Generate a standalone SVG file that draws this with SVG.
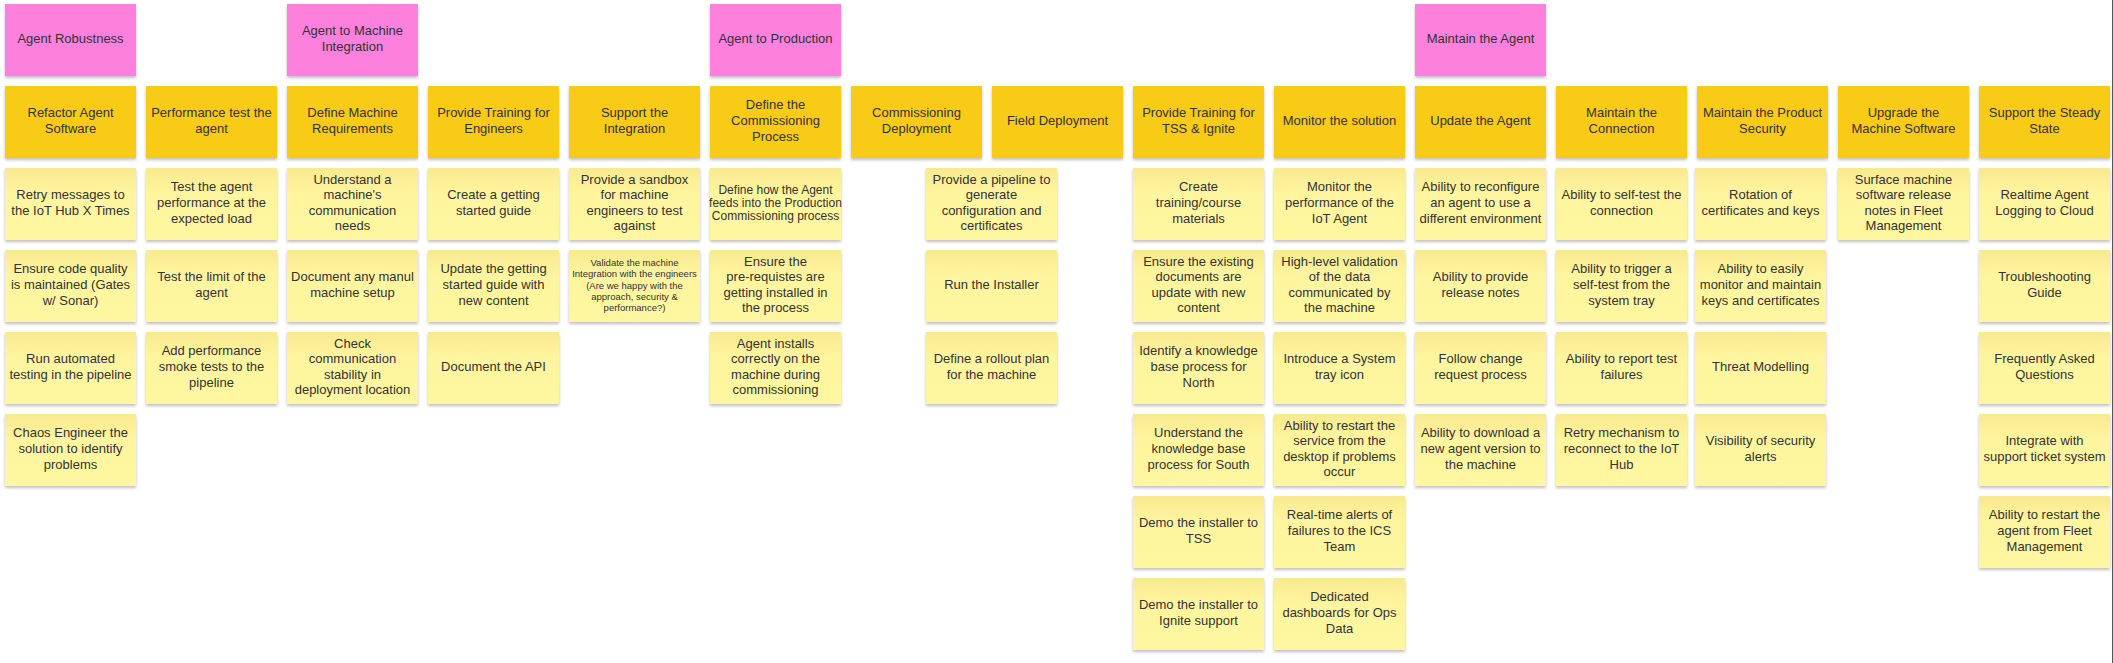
<svg xmlns="http://www.w3.org/2000/svg" width="2113" height="663" viewBox="0 0 2113 663">
<defs>
<linearGradient id="gy" x1="0" y1="0" x2="0" y2="1">
<stop offset="0" stop-color="#F8E98F"/>
<stop offset="0.35" stop-color="#FFF59F"/>
<stop offset="1" stop-color="#FFF6A0"/>
</linearGradient>
<filter id="sh" x="-10%" y="-10%" width="120%" height="130%">
<feDropShadow dx="0" dy="2" stdDeviation="1.5" flood-color="#000" flood-opacity="0.25"/>
</filter>
<style>
rect{filter:url(#sh)}
.p{fill:#FD80DD}
.o{fill:#F8CB14}
.y{fill:url(#gy)}
text{font-family:"Liberation Sans",Arial,sans-serif;font-size:13px;fill:#333;text-anchor:middle}
.s12{font-size:12px}
.s9{font-size:9.5px}
</style>
</defs>
<rect x="0" y="0" width="2113" height="663" fill="#fff" style="filter:none"/>
<g id="connectors"/>

<!-- Column 0 -->
<g id="epic-agent-robustness"><rect class="p" x="5" y="4" width="131" height="72"/><text x="70.5" y="43">Agent Robustness</text></g>
<g id="f-refactor"><rect class="o" x="5" y="86" width="131" height="72"/><text y="117.2"><tspan x="70.5">Refactor Agent</tspan><tspan x="70.5" dy="15.6">Software</tspan></text></g>
<g id="s-retry"><rect class="y" x="5" y="168" width="131" height="72"/><text y="199.2"><tspan x="70.5">Retry messages to</tspan><tspan x="70.5" dy="15.6">the IoT Hub X Times</tspan></text></g>
<g id="s-codequality"><rect class="y" x="5" y="250" width="131" height="72"/><text y="273.4"><tspan x="70.5">Ensure code quality</tspan><tspan x="70.5" dy="15.6">is maintained (Gates</tspan><tspan x="70.5" dy="15.6">w/ Sonar)</tspan></text></g>
<g id="s-autotest"><rect class="y" x="5" y="332" width="131" height="72"/><text y="363.2"><tspan x="70.5">Run automated</tspan><tspan x="70.5" dy="15.6">testing in the pipeline</tspan></text></g>
<g id="s-chaos"><rect class="y" x="5" y="414" width="131" height="72"/><text y="437.4"><tspan x="70.5">Chaos Engineer the</tspan><tspan x="70.5" dy="15.6">solution to identify</tspan><tspan x="70.5" dy="15.6">problems</tspan></text></g>

<!-- Column 1 -->
<g id="f-perftest"><rect class="o" x="146" y="86" width="131" height="72"/><text y="117.2"><tspan x="211.5">Performance test the</tspan><tspan x="211.5" dy="15.6">agent</tspan></text></g>
<g id="s-perfload"><rect class="y" x="146" y="168" width="131" height="72"/><text y="191.4"><tspan x="211.5">Test the agent</tspan><tspan x="211.5" dy="15.6">performance at the</tspan><tspan x="211.5" dy="15.6">expected load</tspan></text></g>
<g id="s-limit"><rect class="y" x="146" y="250" width="131" height="72"/><text y="281.2"><tspan x="211.5">Test the limit of the</tspan><tspan x="211.5" dy="15.6">agent</tspan></text></g>
<g id="s-smoke"><rect class="y" x="146" y="332" width="131" height="72"/><text y="355.4"><tspan x="211.5">Add performance</tspan><tspan x="211.5" dy="15.6">smoke tests to the</tspan><tspan x="211.5" dy="15.6">pipeline</tspan></text></g>

<!-- Column 2 -->
<g id="epic-machine-integration"><rect class="p" x="287" y="4" width="131" height="72"/><text y="35.2"><tspan x="352.5">Agent to Machine</tspan><tspan x="352.5" dy="15.6">Integration</tspan></text></g>
<g id="f-machinereq"><rect class="o" x="287" y="86" width="131" height="72"/><text y="117.2"><tspan x="352.5">Define Machine</tspan><tspan x="352.5" dy="15.6">Requirements</tspan></text></g>
<g id="s-commneeds"><rect class="y" x="287" y="168" width="131" height="72"/><text y="183.6"><tspan x="352.5">Understand a</tspan><tspan x="352.5" dy="15.6">machine's</tspan><tspan x="352.5" dy="15.6">communication</tspan><tspan x="352.5" dy="15.6">needs</tspan></text></g>
<g id="s-manulsetup"><rect class="y" x="287" y="250" width="131" height="72"/><text y="281.2"><tspan x="352.5">Document any manul</tspan><tspan x="352.5" dy="15.6">machine setup</tspan></text></g>
<g id="s-stability"><rect class="y" x="287" y="332" width="131" height="72"/><text y="347.6"><tspan x="352.5">Check</tspan><tspan x="352.5" dy="15.6">communication</tspan><tspan x="352.5" dy="15.6">stability in</tspan><tspan x="352.5" dy="15.6">deployment location</tspan></text></g>

<!-- Column 3 -->
<g id="f-training-eng"><rect class="o" x="428" y="86" width="131" height="72"/><text y="117.2"><tspan x="493.5">Provide Training for</tspan><tspan x="493.5" dy="15.6">Engineers</tspan></text></g>
<g id="s-gsguide"><rect class="y" x="428" y="168" width="131" height="72"/><text y="199.2"><tspan x="493.5">Create a getting</tspan><tspan x="493.5" dy="15.6">started guide</tspan></text></g>
<g id="s-gsupdate"><rect class="y" x="428" y="250" width="131" height="72"/><text y="273.4"><tspan x="493.5">Update the getting</tspan><tspan x="493.5" dy="15.6">started guide with</tspan><tspan x="493.5" dy="15.6">new content</tspan></text></g>
<g id="s-api"><rect class="y" x="428" y="332" width="131" height="72"/><text x="493.5" y="371">Document the API</text></g>

<!-- Column 4 -->
<g id="f-support-integration"><rect class="o" x="569" y="86" width="131" height="72"/><text y="117.2"><tspan x="634.5">Support the</tspan><tspan x="634.5" dy="15.6">Integration</tspan></text></g>
<g id="s-sandbox"><rect class="y" x="569" y="168" width="131" height="72"/><text y="183.6"><tspan x="634.5">Provide a sandbox</tspan><tspan x="634.5" dy="15.6">for machine</tspan><tspan x="634.5" dy="15.6">engineers to test</tspan><tspan x="634.5" dy="15.6">against</tspan></text></g>
<g id="s-validate"><rect class="y" x="569" y="250" width="131" height="72"/><text class="s9" y="265.9"><tspan x="634.5">Validate the machine</tspan><tspan x="634.5" dy="11.3">Integration with the engineers</tspan><tspan x="634.5" dy="11.3">(Are we happy with the</tspan><tspan x="634.5" dy="11.3">approach, security &amp;</tspan><tspan x="634.5" dy="11.3">performance?)</tspan></text></g>

<!-- Column 5 -->
<g id="epic-production"><rect class="p" x="710" y="4" width="131" height="72"/><text x="775.5" y="43">Agent to Production</text></g>
<g id="f-commissioning-process"><rect class="o" x="710" y="86" width="131" height="72"/><text y="109.4"><tspan x="775.5">Define the</tspan><tspan x="775.5" dy="15.6">Commissioning</tspan><tspan x="775.5" dy="15.6">Process</tspan></text></g>
<g id="s-feeds"><rect class="y" x="710" y="168" width="131" height="72"/><text class="s12" y="194"><tspan x="775.5">Define how the Agent</tspan><tspan x="775.5" dy="13">feeds into the Production</tspan><tspan x="775.5" dy="13">Commissioning process</tspan></text></g>
<g id="s-prereq"><rect class="y" x="710" y="250" width="131" height="72"/><text y="265.6"><tspan x="775.5">Ensure the</tspan><tspan x="775.5" dy="15.6">pre-requistes are</tspan><tspan x="775.5" dy="15.6">getting installed in</tspan><tspan x="775.5" dy="15.6">the process</tspan></text></g>
<g id="s-installs"><rect class="y" x="710" y="332" width="131" height="72"/><text y="347.6"><tspan x="775.5">Agent installs</tspan><tspan x="775.5" dy="15.6">correctly on the</tspan><tspan x="775.5" dy="15.6">machine during</tspan><tspan x="775.5" dy="15.6">commissioning</tspan></text></g>

<!-- Column 6 / 7 -->
<g id="f-commissioning-deploy"><rect class="o" x="851" y="86" width="131" height="72"/><text y="117.2"><tspan x="916.5">Commissioning</tspan><tspan x="916.5" dy="15.6">Deployment</tspan></text></g>
<g id="f-field-deploy"><rect class="o" x="992" y="86" width="131" height="72"/><text x="1057.5" y="125">Field Deployment</text></g>
<g id="s-pipeline"><rect class="y" x="926" y="168" width="131" height="72"/><text y="183.6"><tspan x="991.5">Provide a pipeline to</tspan><tspan x="991.5" dy="15.6">generate</tspan><tspan x="991.5" dy="15.6">configuration and</tspan><tspan x="991.5" dy="15.6">certificates</tspan></text></g>
<g id="s-installer"><rect class="y" x="926" y="250" width="131" height="72"/><text x="991.5" y="289">Run the Installer</text></g>
<g id="s-rollout"><rect class="y" x="926" y="332" width="131" height="72"/><text y="363.2"><tspan x="991.5">Define a rollout plan</tspan><tspan x="991.5" dy="15.6">for the machine</tspan></text></g>

<!-- Column 8 -->
<g id="f-training-tss"><rect class="o" x="1133" y="86" width="131" height="72"/><text y="117.2"><tspan x="1198.5">Provide Training for</tspan><tspan x="1198.5" dy="15.6">TSS &amp; Ignite</tspan></text></g>
<g id="s-course"><rect class="y" x="1133" y="168" width="131" height="72"/><text y="191.4"><tspan x="1198.5">Create</tspan><tspan x="1198.5" dy="15.6">training/course</tspan><tspan x="1198.5" dy="15.6">materials</tspan></text></g>
<g id="s-existingdocs"><rect class="y" x="1133" y="250" width="131" height="72"/><text y="265.6"><tspan x="1198.5">Ensure the existing</tspan><tspan x="1198.5" dy="15.6">documents are</tspan><tspan x="1198.5" dy="15.6">update with new</tspan><tspan x="1198.5" dy="15.6">content</tspan></text></g>
<g id="s-kbnorth"><rect class="y" x="1133" y="332" width="131" height="72"/><text y="355.4"><tspan x="1198.5">Identify a knowledge</tspan><tspan x="1198.5" dy="15.6">base process for</tspan><tspan x="1198.5" dy="15.6">North</tspan></text></g>
<g id="s-kbsouth"><rect class="y" x="1133" y="414" width="131" height="72"/><text y="437.4"><tspan x="1198.5">Understand the</tspan><tspan x="1198.5" dy="15.6">knowledge base</tspan><tspan x="1198.5" dy="15.6">process for South</tspan></text></g>
<g id="s-demotss"><rect class="y" x="1133" y="496" width="131" height="72"/><text y="527.2"><tspan x="1198.5">Demo the installer to</tspan><tspan x="1198.5" dy="15.6">TSS</tspan></text></g>
<g id="s-demoignite"><rect class="y" x="1133" y="578" width="131" height="72"/><text y="609.2"><tspan x="1198.5">Demo the installer to</tspan><tspan x="1198.5" dy="15.6">Ignite support</tspan></text></g>

<!-- Column 9 -->
<g id="f-monitor"><rect class="o" x="1274" y="86" width="131" height="72"/><text x="1339.5" y="125">Monitor the solution</text></g>
<g id="s-monperf"><rect class="y" x="1274" y="168" width="131" height="72"/><text y="191.4"><tspan x="1339.5">Monitor the</tspan><tspan x="1339.5" dy="15.6">performance of the</tspan><tspan x="1339.5" dy="15.6">IoT Agent</tspan></text></g>
<g id="s-validation"><rect class="y" x="1274" y="250" width="131" height="72"/><text y="265.6"><tspan x="1339.5">High-level validation</tspan><tspan x="1339.5" dy="15.6">of the data</tspan><tspan x="1339.5" dy="15.6">communicated by</tspan><tspan x="1339.5" dy="15.6">the machine</tspan></text></g>
<g id="s-trayicon"><rect class="y" x="1274" y="332" width="131" height="72"/><text y="363.2"><tspan x="1339.5">Introduce a System</tspan><tspan x="1339.5" dy="15.6">tray icon</tspan></text></g>
<g id="s-restartsvc"><rect class="y" x="1274" y="414" width="131" height="72"/><text y="429.6"><tspan x="1339.5">Ability to restart the</tspan><tspan x="1339.5" dy="15.6">service from the</tspan><tspan x="1339.5" dy="15.6">desktop if problems</tspan><tspan x="1339.5" dy="15.6">occur</tspan></text></g>
<g id="s-alerts"><rect class="y" x="1274" y="496" width="131" height="72"/><text y="519.4"><tspan x="1339.5">Real-time alerts of</tspan><tspan x="1339.5" dy="15.6">failures to the ICS</tspan><tspan x="1339.5" dy="15.6">Team</tspan></text></g>
<g id="s-dashboards"><rect class="y" x="1274" y="578" width="131" height="72"/><text y="601.4"><tspan x="1339.5">Dedicated</tspan><tspan x="1339.5" dy="15.6">dashboards for Ops</tspan><tspan x="1339.5" dy="15.6">Data</tspan></text></g>

<!-- Column 10 -->
<g id="epic-maintain"><rect class="p" x="1415" y="4" width="131" height="72"/><text x="1480.5" y="43">Maintain the Agent</text></g>
<g id="f-update"><rect class="o" x="1415" y="86" width="131" height="72"/><text x="1480.5" y="125">Update the Agent</text></g>
<g id="s-reconfigure"><rect class="y" x="1415" y="168" width="131" height="72"/><text y="191.4"><tspan x="1480.5">Ability to reconfigure</tspan><tspan x="1480.5" dy="15.6">an agent to use a</tspan><tspan x="1480.5" dy="15.6">different environment</tspan></text></g>
<g id="s-releasenotes"><rect class="y" x="1415" y="250" width="131" height="72"/><text y="281.2"><tspan x="1480.5">Ability to provide</tspan><tspan x="1480.5" dy="15.6">release notes</tspan></text></g>
<g id="s-changereq"><rect class="y" x="1415" y="332" width="131" height="72"/><text y="363.2"><tspan x="1480.5">Follow change</tspan><tspan x="1480.5" dy="15.6">request process</tspan></text></g>
<g id="s-download"><rect class="y" x="1415" y="414" width="131" height="72"/><text y="437.4"><tspan x="1480.5">Ability to download a</tspan><tspan x="1480.5" dy="15.6">new agent version to</tspan><tspan x="1480.5" dy="15.6">the machine</tspan></text></g>

<!-- Column 11 -->
<g id="f-connection"><rect class="o" x="1556" y="86" width="131" height="72"/><text y="117.2"><tspan x="1621.5">Maintain the</tspan><tspan x="1621.5" dy="15.6">Connection</tspan></text></g>
<g id="s-selftest"><rect class="y" x="1556" y="168" width="131" height="72"/><text y="199.2"><tspan x="1621.5">Ability to self-test the</tspan><tspan x="1621.5" dy="15.6">connection</tspan></text></g>
<g id="s-trigger"><rect class="y" x="1556" y="250" width="131" height="72"/><text y="273.4"><tspan x="1621.5">Ability to trigger a</tspan><tspan x="1621.5" dy="15.6">self-test from the</tspan><tspan x="1621.5" dy="15.6">system tray</tspan></text></g>
<g id="s-reportfail"><rect class="y" x="1556" y="332" width="131" height="72"/><text y="363.2"><tspan x="1621.5">Ability to report test</tspan><tspan x="1621.5" dy="15.6">failures</tspan></text></g>
<g id="s-reconnect"><rect class="y" x="1556" y="414" width="131" height="72"/><text y="437.4"><tspan x="1621.5">Retry mechanism to</tspan><tspan x="1621.5" dy="15.6">reconnect to the IoT</tspan><tspan x="1621.5" dy="15.6">Hub</tspan></text></g>

<!-- Column 12 -->
<g id="f-security"><rect class="o" x="1697" y="86" width="131" height="72"/><text y="117.2"><tspan x="1762.5">Maintain the Product</tspan><tspan x="1762.5" dy="15.6">Security</tspan></text></g>
<g id="s-rotation"><rect class="y" x="1695" y="168" width="131" height="72"/><text y="199.2"><tspan x="1760.5">Rotation of</tspan><tspan x="1760.5" dy="15.6">certificates and keys</tspan></text></g>
<g id="s-keys"><rect class="y" x="1695" y="250" width="131" height="72"/><text y="273.4"><tspan x="1760.5">Ability to easily</tspan><tspan x="1760.5" dy="15.6">monitor and maintain</tspan><tspan x="1760.5" dy="15.6">keys and certificates</tspan></text></g>
<g id="s-threat"><rect class="y" x="1695" y="332" width="131" height="72"/><text x="1760.5" y="371">Threat Modelling</text></g>
<g id="s-secalerts"><rect class="y" x="1695" y="414" width="131" height="72"/><text y="445.2"><tspan x="1760.5">Visibility of security</tspan><tspan x="1760.5" dy="15.6">alerts</tspan></text></g>

<!-- Column 13 -->
<g id="f-upgrade"><rect class="o" x="1838" y="86" width="131" height="72"/><text y="117.2"><tspan x="1903.5">Upgrade the</tspan><tspan x="1903.5" dy="15.6">Machine Software</tspan></text></g>
<g id="s-surface"><rect class="y" x="1838" y="168" width="131" height="72"/><text y="183.6"><tspan x="1903.5">Surface machine</tspan><tspan x="1903.5" dy="15.6">software release</tspan><tspan x="1903.5" dy="15.6">notes in Fleet</tspan><tspan x="1903.5" dy="15.6">Management</tspan></text></g>

<!-- Column 14 -->
<g id="f-steady"><rect class="o" x="1979" y="86" width="131" height="72"/><text y="117.2"><tspan x="2044.5">Support the Steady</tspan><tspan x="2044.5" dy="15.6">State</tspan></text></g>
<g id="s-logging"><rect class="y" x="1979" y="168" width="131" height="72"/><text y="199.2"><tspan x="2044.5">Realtime Agent</tspan><tspan x="2044.5" dy="15.6">Logging to Cloud</tspan></text></g>
<g id="s-troubleshoot"><rect class="y" x="1979" y="250" width="131" height="72"/><text y="281.2"><tspan x="2044.5">Troubleshooting</tspan><tspan x="2044.5" dy="15.6">Guide</tspan></text></g>
<g id="s-faq"><rect class="y" x="1979" y="332" width="131" height="72"/><text y="363.2"><tspan x="2044.5">Frequently Asked</tspan><tspan x="2044.5" dy="15.6">Questions</tspan></text></g>
<g id="s-tickets"><rect class="y" x="1979" y="414" width="131" height="72"/><text y="445.2"><tspan x="2044.5">Integrate with</tspan><tspan x="2044.5" dy="15.6">support ticket system</tspan></text></g>
<g id="s-restartfleet"><rect class="y" x="1979" y="496" width="131" height="72"/><text y="519.4"><tspan x="2044.5">Ability to restart the</tspan><tspan x="2044.5" dy="15.6">agent from Fleet</tspan><tspan x="2044.5" dy="15.6">Management</tspan></text></g>

<line x1="2112.5" y1="0" x2="2112.5" y2="663" stroke="#555" stroke-width="1"/>
</svg>
